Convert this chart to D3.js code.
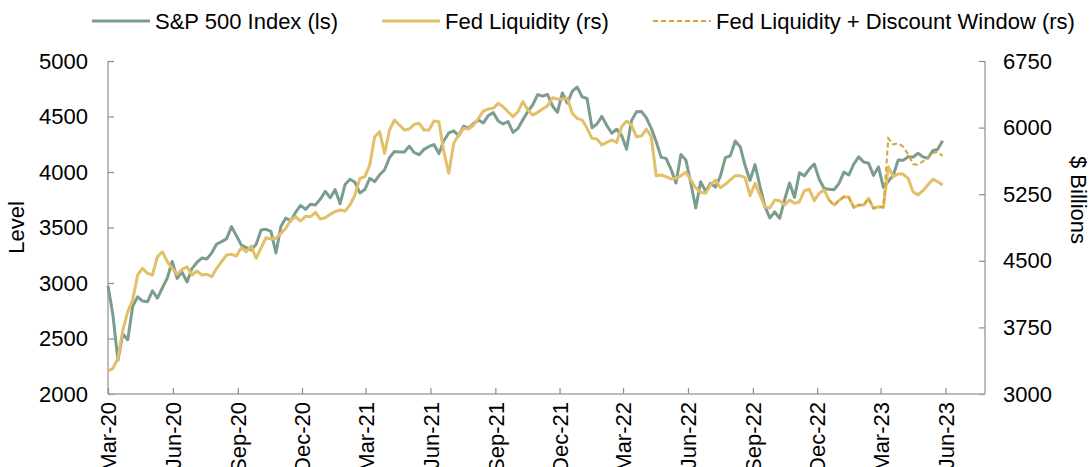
<!DOCTYPE html>
<html>
<head>
<meta charset="utf-8">
<script src="https://cdn.jsdelivr.net/npm/d3@7"></script>
<style>
  body { margin: 0; background: #fff; }
  svg { display: block; font-family: "Liberation Sans", Arial, sans-serif; }
</style>
</head>
<body>
<svg id="chart"></svg>
<script>
// weekly observations, first one on 6 Mar 2020
const firstWeek = "2020-03-06";
const axisEnd = "2023-08-01";

const quarterLabels = ["Mar-20", "Jun-20", "Sep-20", "Dec-20", "Mar-21", "Jun-21", "Sep-21",
  "Dec-21", "Mar-22", "Jun-22", "Sep-22", "Dec-22", "Mar-23", "Jun-23"];
const leftTicks = [2000, 2500, 3000, 3500, 4000, 4500, 5000];
const rightTicks = [3000, 3750, 4500, 5250, 6000, 6750];

const seriesNames = ["S&P 500 Index (ls)", "Fed Liquidity (rs)", "Fed Liquidity + Discount Window (rs)"];

const spx = [
  2972, 2711, 2305, 2541, 2489, 2790, 2875, 2837, 2831, 2930, 2864, 2955, 3044, 3194, 3041, 3098,
  3009, 3130, 3185, 3225, 3216, 3271, 3351, 3373, 3397, 3508, 3427, 3341, 3319, 3298, 3348, 3477,
  3484, 3465, 3270, 3509, 3585, 3558, 3638, 3699, 3663, 3709, 3703, 3756,
  3825, 3768, 3841, 3714, 3887, 3934, 3907, 3811, 3842, 3943, 3913, 3975, 4020, 4129, 4185, 4180,
  4181, 4233, 4174, 4156, 4204, 4230, 4247, 4166, 4281, 4352, 4370, 4327, 4412, 4395, 4437, 4468,
  4442, 4509, 4535, 4459, 4433, 4455, 4357, 4391, 4471, 4545, 4605, 4697, 4683, 4698, 4595, 4538,
  4712, 4620, 4726, 4766,
  4677, 4662, 4398, 4432, 4501, 4419, 4349, 4385, 4329, 4204, 4463, 4543, 4546, 4488, 4393, 4272,
  4132, 4123, 4024, 3901, 4158, 4109, 3901, 3675, 3912, 3825, 3899, 3863, 3962, 4130, 4145, 4280,
  4228, 4058, 3924, 4067, 3873, 3693, 3586, 3640, 3583, 3752, 3901, 3771, 3993, 3965, 4026, 4072,
  3934, 3852, 3845, 3840,
  3895, 3999, 3973, 4071, 4136, 4090, 4079, 3970, 4046, 3862, 3917, 3971, 4109, 4105, 4138, 4133,
  4169, 4136, 4124, 4192, 4205, 4282
];

const fedLiquidity = [
  3259, 3289, 3402, 3720, 3927, 4058, 4340, 4415, 4359, 4340, 4546, 4602, 4490, 4415, 4348, 4404,
  4433, 4340, 4385, 4340, 4348, 4321, 4415, 4490, 4565, 4573, 4554, 4647, 4602, 4666, 4528, 4647,
  4760, 4745, 4753, 4809, 4866, 4959, 4996, 4948, 5001, 4996, 5046, 4970, 4985, 5023,
  5053, 5072, 5061, 5128, 5241, 5429, 5447, 5579, 5897, 5954, 5710, 5973, 6085, 6029, 5973, 5984,
  6037, 6048, 5973, 5973, 6074, 6066, 5728, 5485, 5823, 5916, 5992, 5984, 6029, 6104, 6187, 6209,
  6217, 6273, 6235, 6179, 6123, 6179, 6292, 6198, 6141, 6172, 6209, 6245,
  6336, 6322, 6322, 6330, 6161, 6104, 6085, 5992, 5879, 5871, 5804, 5834, 5860, 5834, 6010, 6074,
  6029, 5897, 5905, 5984, 5897, 5458, 5466, 5447, 5421, 5429, 5458, 5496, 5410, 5323, 5271, 5260,
  5353, 5410, 5323, 5361, 5410, 5458, 5458, 5436, 5233, 5372, 5241, 5109, 5095,
  5184, 5177, 5128, 5184, 5147, 5165, 5289, 5305, 5177, 5260, 5297, 5184, 5128, 5177, 5222, 5215,
  5102, 5128, 5128, 5203, 5091, 5109, 5102, 5560, 5447, 5477, 5477, 5429, 5278, 5241, 5289, 5353,
  5417, 5391, 5353
];

// the discount window series only exists from week 146 on
const discountStartWeek = 146;
const fedPlusDiscount = [
  5184, 5128, 5177, 5222, 5215, 5102, 5128, 5128, 5203, 5091, 5109, 5102,
  5879, 5810, 5823, 5785, 5700, 5590, 5580, 5620, 5660, 5710, 5730, 5680
];

const width = 1090, height = 467;
const plotLeft = 108, plotRight = 985, plotTop = 61, plotBottom = 394;
const green = "#7b9d8e", yellow = "#e2bf69", gold = "#d4a43b";

const svg = d3.select("#chart").attr("width", width).attr("height", height);

const parseDay = d3.timeParse("%Y-%m-%d");
const start = parseDay(firstWeek);
const weekDate = i => d3.timeDay.offset(start, 7 * i);

const x = d3.scaleTime().domain([start, parseDay(axisEnd)]).range([plotLeft, plotRight]);
const yL = d3.scaleLinear().domain([2000, 5000]).range([plotBottom, plotTop]);
const yR = d3.scaleLinear().domain([3000, 6750]).range([plotBottom, plotTop]);

// tick positions: every third month, counted from the first observation
const tickDates = quarterLabels.map((d, i) => d3.timeMonth.offset(start, 3 * i));

const axisColor = "#a6a6a6";

// left axis
const gL = svg.append("g").attr("transform", `translate(${plotLeft},0)`)
  .call(d3.axisLeft(yL).tickValues(leftTicks).tickSize(-6).tickPadding(20).tickFormat(d3.format("d")));
// right axis
const gR = svg.append("g").attr("transform", `translate(${plotRight},0)`)
  .call(d3.axisRight(yR).tickValues(rightTicks).tickSize(-6).tickPadding(18).tickFormat(d3.format("d")));
// bottom axis
const gB = svg.append("g").attr("transform", `translate(0,${plotBottom})`)
  .call(d3.axisBottom(x).tickValues(tickDates).tickSize(-6).tickPadding(8)
    .tickFormat((d, i) => quarterLabels[i]));

[gL, gR, gB].forEach(g => {
  g.select(".domain").attr("stroke", axisColor).attr("stroke-width", 1.5);
  g.selectAll(".tick line").attr("stroke", "#8c8c8c").attr("stroke-width", 1.2);
  g.selectAll(".tick text").attr("fill", "#000").style("font-size", "22px")
    .style("font-family", "'Liberation Sans', Arial, sans-serif");
});
gB.select(".domain").attr("d", `M${plotLeft},0H${plotRight}`);
gL.select(".domain").attr("d", `M0,${plotTop}V${plotBottom}`);
gR.select(".domain").attr("d", `M0,${plotTop}V${plotBottom}`);

gB.selectAll(".tick text")
  .attr("text-anchor", "end")
  .attr("transform", "rotate(-90)")
  .attr("x", -8)
  .attr("y", 0)
  .attr("dy", "0.35em");

// axis titles
svg.append("text")
  .attr("transform", `translate(24,${(plotTop + plotBottom) / 2}) rotate(-90)`)
  .attr("text-anchor", "middle")
  .style("font-size", "22px")
  .text("Level");

svg.append("text")
  .attr("transform", `translate(1071,200) rotate(90)`)
  .attr("text-anchor", "middle")
  .style("font-size", "22px")
  .text("$ Billions");

// lines
const lineL = d3.line().x((d, i) => x(weekDate(i))).y(d => yL(d));
const lineR = d3.line().x((d, i) => x(weekDate(i))).y(d => yR(d));
const lineDW = d3.line().x((d, i) => x(weekDate(i + discountStartWeek))).y(d => yR(d));

svg.append("path").datum(spx)
  .attr("d", lineL).attr("fill", "none")
  .attr("stroke", green).attr("stroke-width", 3).attr("stroke-linejoin", "round");

svg.append("path").datum(fedLiquidity)
  .attr("d", lineR).attr("fill", "none")
  .attr("stroke", yellow).attr("stroke-width", 3).attr("stroke-linejoin", "round");

svg.append("path").datum(fedPlusDiscount)
  .attr("d", lineDW).attr("fill", "none")
  .attr("stroke", gold).attr("stroke-width", 2).attr("stroke-dasharray", "5,3");

// legend
const legendItems = [
  { name: seriesNames[0], color: green, x: 92, dash: null, w: 3 },
  { name: seriesNames[1], color: yellow, x: 382, dash: null, w: 3 },
  { name: seriesNames[2], color: gold, x: 653, dash: "5,3", w: 2 }
];
const legend = svg.append("g").attr("transform", "translate(0,21)");
legendItems.forEach(it => {
  legend.append("line")
    .attr("x1", it.x).attr("x2", it.x + 58).attr("y1", 0).attr("y2", 0)
    .attr("stroke", it.color).attr("stroke-width", it.w)
    .attr("stroke-dasharray", it.dash);
  legend.append("text")
    .attr("x", it.x + 63).attr("y", 0).attr("dy", "0.35em")
    .style("font-size", "22px")
    .text(it.name);
});
</script>
</body>
</html>
